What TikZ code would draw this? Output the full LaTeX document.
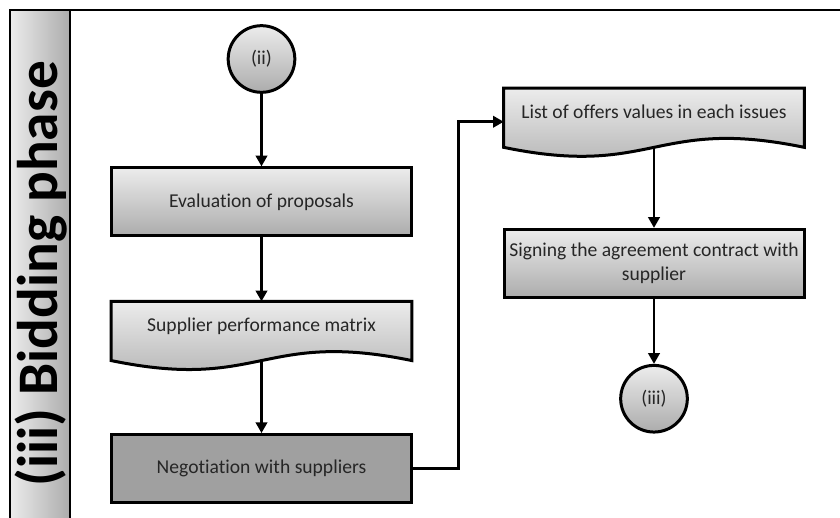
\documentclass[tikz,border=0pt]{standalone}
\usepackage{fontspec}
\setmainfont{Carlito}[Ligatures=NoCommon]
\usetikzlibrary{positioning,arrows.meta,backgrounds}
\definecolor{shadetop}{RGB}{236,236,236}
\definecolor{shadebot}{RGB}{172,172,172}
\definecolor{keyfill}{RGB}{160,160,160}
\definecolor{inktext}{RGB}{38,38,38}

\begin{document}
\begin{tikzpicture}[
  x=0.75pt, y=-0.75pt,
  font=\fontsize{14.7}{17.5}\selectfont,
  basebox/.style={draw,line width=2.25pt,minimum width=225pt,minimum height=51pt,text=inktext,align=center},
  procbox/.style={basebox,top color=shadetop,bottom color=shadebot},
  keybox/.style={basebox,fill=keyfill},
  docbox/.style={minimum width=225pt,minimum height=44pt,text depth=9pt,text=inktext},
  docshape/.style={draw,line width=2.25pt,top color=shadetop,bottom color=shadebot},
  connector/.style={circle,draw,line width=2.25pt,minimum size=50pt,top color=shadetop,bottom color=shadebot,text=inktext},
  flow/.style={line width=1.9pt,-{Triangle[length=8pt,width=8.5pt]}},
  frame/.style={line width=1.9pt}
]
\useasboundingbox (0,0) rectangle (840,518);

% phase band
\fill[left color=shadetop,right color=shadebot] (10,10) rectangle (70,530);
\draw[frame] (850,10) -- (10,10) -- (10,530);
\draw[frame] (70,10) -- (70,530);
\node[rotate=90,font=\fontsize{43}{48}\selectfont\bfseries] (phase) at (41,274) {(iii) Bidding phase};

% left column
\node[connector] (ii) at (261.5,59) {(ii)};
\node[procbox,below=54.4pt of ii] (eval) {Evaluation of proposals};
\node[docbox,below=48pt of eval] (perf) {Supplier performance matrix};
\node[keybox,below=54.4pt of perf] (negot) {Negotiation with suppliers};

% right column
\node[docbox] (offers) at (654,117.75) {List of offers values in each issues};
\node[procbox,below=60.4pt of offers] (sign) {Signing the agreement contract with\\supplier};
\node[connector,below=48.75pt of sign] (iii) {(iii)};

% wavy document outlines
\begin{scope}[on background layer]
  \foreach \d in {perf,offers}
    \path[docshape] (\d.north west) -- (\d.north east) -- (\d.south east)
      .. controls +(-150,-31) and +(150,31) .. (\d.south west) -- cycle;
\end{scope}

\draw[flow] (ii) -- (eval);
\draw[flow] (eval) -- (perf);
\draw[flow] (perf) -- (negot);
\draw[flow] (negot.east) -- ++(45.5,0) |- ([yshift=-3pt]offers.west);
\draw[flow] (offers) -- (sign);
\draw[flow] (sign) -- (iii);

\end{tikzpicture}
\end{document}
